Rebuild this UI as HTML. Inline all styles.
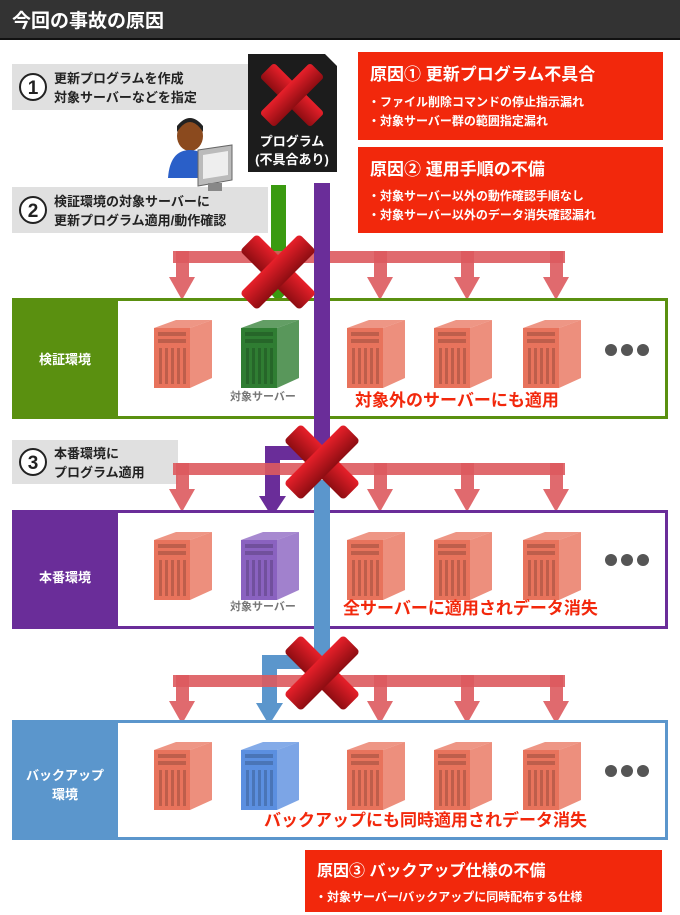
<!DOCTYPE html>
<html><head><meta charset="utf-8"><style>
html,body{margin:0;padding:0;background:#fff;}
svg{display:block;font-family:"Liberation Sans","Noto Sans CJK JP",sans-serif;font-weight:bold;}
</style></head><body>
<svg width="680" height="915" viewBox="0 0 680 915" xmlns="http://www.w3.org/2000/svg">
<defs>
<g id="srv">
  <polygon points="0,10 22,2 58,2 36,10" fill-opacity="0.75"/>
  <rect x="0" y="10" width="36" height="60"/>
  <polygon points="36,10 58,2 58,60 36,70" fill-opacity="0.8"/>
  <g fill="#000" fill-opacity="0.18">
    <rect x="4" y="14" width="28" height="4"/><rect x="4" y="21" width="28" height="4"/>
    <rect x="5" y="30" width="3" height="36"/><rect x="11" y="30" width="3" height="36"/>
    <rect x="17" y="30" width="3" height="36"/><rect x="23" y="30" width="3" height="36"/>
    <rect x="29" y="30" width="3" height="36"/>
  </g>
</g>
<linearGradient id="xg" x1="0" y1="0" x2="0" y2="1"><stop offset="0" stop-color="#e8202a"/><stop offset="1" stop-color="#8e0d12"/></linearGradient>
<g id="xx">
  <rect x="-42" y="-12" width="84" height="24" rx="4" transform="rotate(45)" fill="url(#xg)"/>
  <rect x="-42" y="-12" width="84" height="24" rx="4" transform="rotate(-45)" fill="url(#xg)"/>
</g>
<g id="arr" fill="#dd5a5e" fill-opacity="0.9">
  <rect x="173" y="0" width="392" height="12"/>
  <rect x="176" y="0" width="13" height="26"/><polygon points="169,26 195,26 182,49"/>
  <rect x="374" y="0" width="13" height="26"/><polygon points="367,26 393,26 380,49"/>
  <rect x="461" y="0" width="13" height="26"/><polygon points="454,26 480,26 467,49"/>
  <rect x="550" y="0" width="13" height="26"/><polygon points="543,26 569,26 556,49"/>
</g>
</defs>

<rect x="0" y="0" width="680" height="38" fill="#333"/>
<rect x="0" y="38" width="680" height="2" fill="#111"/>
<text x="12" y="27" fill="#fff" font-size="19">今回の事故の原因</text>

<rect x="12" y="64" width="236" height="46" fill="#e0e0e0"/>
<circle cx="33" cy="87" r="13" fill="#fff" stroke="#222" stroke-width="2"/>
<text x="33" y="94" text-anchor="middle" font-size="19" fill="#222">1</text>
<text x="54" y="83" font-size="13" fill="#222">更新プログラムを作成</text>
<text x="54" y="102" font-size="13" fill="#222">対象サーバーなどを指定</text>

<rect x="12" y="187" width="256" height="46" fill="#e0e0e0"/>
<circle cx="33" cy="210" r="13" fill="#fff" stroke="#222" stroke-width="2"/>
<text x="33" y="217" text-anchor="middle" font-size="19" fill="#222">2</text>
<text x="54" y="206" font-size="13" fill="#222">検証環境の対象サーバーに</text>
<text x="54" y="225" font-size="13" fill="#222">更新プログラム適用/動作確認</text>

<ellipse cx="190" cy="136" rx="13" ry="15" fill="#8b4a1e"/>
<path d="M177,132 Q190,112 203,132 L203,126 Q190,110 177,126Z" fill="#222"/>
<path d="M168,178 Q170,150 190,150 Q205,150 208,165 L208,178Z" fill="#2a5fc8"/>
<polygon points="198,150 232,145 232,180 198,186" fill="#bbb" stroke="#666"/>
<polygon points="203,155 228,151 228,175 203,179" fill="#eee"/>
<rect x="208" y="183" width="14" height="8" fill="#888"/>

<polygon points="248,54 325,54 337,66 337,172 248,172" fill="#1c1c1c"/>
<text x="292" y="146" text-anchor="middle" font-size="13" fill="#fff">プログラム</text>
<text x="292" y="164" text-anchor="middle" font-size="13" fill="#fff">(不具合あり)</text>
<use href="#xx" transform="translate(292,95) scale(0.85)"/>

<rect x="358" y="52" width="305" height="88" fill="#f2280c"/>
<text x="370" y="80" font-size="17" fill="#fff">原因① 更新プログラム不具合</text>
<text x="368" y="106" font-size="12" fill="#fff">・ファイル削除コマンドの停止指示漏れ</text>
<text x="368" y="125" font-size="12" fill="#fff">・対象サーバー群の範囲指定漏れ</text>
<rect x="358" y="147" width="305" height="86" fill="#f2280c"/>
<text x="370" y="175" font-size="17" fill="#fff">原因② 運用手順の不備</text>
<text x="368" y="200" font-size="12" fill="#fff">・対象サーバー以外の動作確認手順なし</text>
<text x="368" y="219" font-size="12" fill="#fff">・対象サーバー以外のデータ消失確認漏れ</text>

<rect x="271" y="185" width="15" height="105" fill="#3a9a10"/>
<polygon points="266,288 291,288 278,302" fill="#3a9a10"/>
<use href="#arr" transform="translate(0,251)"/>
<rect x="13.5" y="299.5" width="653" height="118" fill="#fff" stroke="#5a9010" stroke-width="3"/>
<rect x="12" y="298" width="106" height="121" fill="#5a9010"/>
<text x="65" y="364" text-anchor="middle" font-size="13" fill="#fff">検証環境</text>
<use href="#srv" x="154" y="318" fill="#e8735c"/>
<use href="#srv" x="241" y="318" fill="#2f7d32"/>
<use href="#srv" x="347" y="318" fill="#e8735c"/>
<use href="#srv" x="434" y="318" fill="#e8735c"/>
<use href="#srv" x="523" y="318" fill="#e8735c"/>
<g fill="#555"><circle cx="611" cy="350" r="6"/><circle cx="627" cy="350" r="6"/><circle cx="643" cy="350" r="6"/></g>
<text x="263" y="400" text-anchor="middle" font-size="11" fill="#777">対象サーバー</text>
<text x="355" y="406" font-size="17" fill="#f2280c">対象外のサーバーにも適用</text>
<rect x="314" y="183" width="16" height="270" fill="#6a2d99"/>
<use href="#xx" transform="translate(278,272)"/>

<rect x="12" y="440" width="166" height="44" fill="#e0e0e0"/>
<circle cx="33" cy="462" r="13" fill="#fff" stroke="#222" stroke-width="2"/>
<text x="33" y="469" text-anchor="middle" font-size="19" fill="#222">3</text>
<text x="54" y="458" font-size="13" fill="#222">本番環境に</text>
<text x="54" y="477" font-size="13" fill="#222">プログラム適用</text>
<rect x="265" y="446" width="65" height="14" fill="#6a2d99"/>
<rect x="265" y="446" width="15" height="52" fill="#6a2d99"/>
<polygon points="259,496 286,496 272,517" fill="#6a2d99"/>
<use href="#arr" transform="translate(0,463)"/>
<rect x="314" y="480" width="16" height="200" fill="#5b96cc"/>
<rect x="13.5" y="511.5" width="653" height="116" fill="#fff" stroke="#6a2d99" stroke-width="3"/>
<rect x="12" y="510" width="106" height="119" fill="#6a2d99"/>
<text x="65" y="582" text-anchor="middle" font-size="13" fill="#fff">本番環境</text>
<use href="#srv" x="154" y="530" fill="#e8735c"/>
<use href="#srv" x="241" y="530" fill="#8a62c0"/>
<use href="#srv" x="347" y="530" fill="#e8735c"/>
<use href="#srv" x="434" y="530" fill="#e8735c"/>
<use href="#srv" x="523" y="530" fill="#e8735c"/>
<g fill="#555"><circle cx="611" cy="560" r="6"/><circle cx="627" cy="560" r="6"/><circle cx="643" cy="560" r="6"/></g>
<text x="263" y="610" text-anchor="middle" font-size="11" fill="#777">対象サーバー</text>
<text x="343" y="614" font-size="17" fill="#f2280c">全サーバーに適用されデータ消失</text>
<rect x="314" y="510" width="16" height="160" fill="#5b96cc"/>
<use href="#xx" transform="translate(322,462)"/>

<rect x="262" y="655" width="68" height="14" fill="#5b96cc"/>
<rect x="262" y="655" width="15" height="50" fill="#5b96cc"/>
<polygon points="256,703 283,703 269,725" fill="#5b96cc"/>
<use href="#arr" transform="translate(0,675)"/>
<rect x="13.5" y="721.5" width="653" height="117" fill="#fff" stroke="#5b96cc" stroke-width="3"/>
<rect x="12" y="720" width="106" height="120" fill="#5b96cc"/>
<text x="65" y="780" text-anchor="middle" font-size="13" fill="#fff">バックアップ</text>
<text x="65" y="799" text-anchor="middle" font-size="13" fill="#fff">環境</text>
<use href="#srv" x="154" y="740" fill="#e8735c"/>
<use href="#srv" x="241" y="740" fill="#5b8fe0"/>
<use href="#srv" x="347" y="740" fill="#e8735c"/>
<use href="#srv" x="434" y="740" fill="#e8735c"/>
<use href="#srv" x="523" y="740" fill="#e8735c"/>
<g fill="#555"><circle cx="611" cy="771" r="6"/><circle cx="627" cy="771" r="6"/><circle cx="643" cy="771" r="6"/></g>
<text x="264" y="826" font-size="17" fill="#f2280c">バックアップにも同時適用されデータ消失</text>
<use href="#xx" transform="translate(322,673)"/>

<rect x="305" y="850" width="357" height="62" fill="#f2280c"/>
<text x="317" y="876" font-size="16" fill="#fff">原因③ バックアップ仕様の不備</text>
<text x="315" y="901" font-size="12" fill="#fff">・対象サーバー/バックアップに同時配布する仕様</text>
</svg>
</body></html>
